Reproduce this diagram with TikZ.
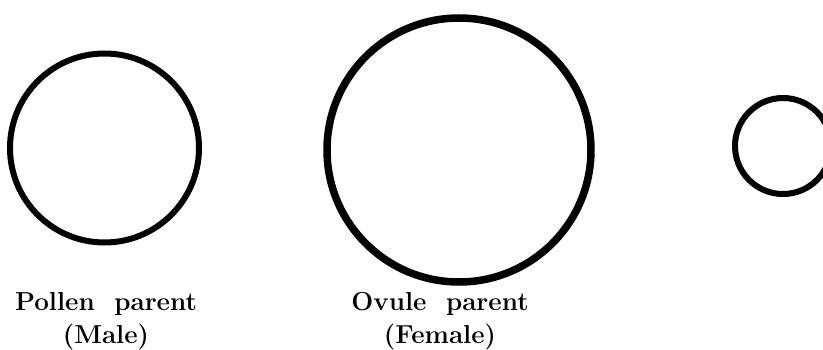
\documentclass[tikz,border=0pt]{standalone}
\usetikzlibrary{positioning}

\begin{document}
\begin{tikzpicture}[x=1pt, y=-1pt, parent/.style={circle, draw, inner sep=0pt},
  lbl/.style={align=center, inner sep=0pt, font=\fontsize{26}{33}\selectfont\bfseries}]
\useasboundingbox (0,0) rectangle (823,350);
\node (male) [parent, minimum size=189pt, line width=6pt] at (104.5,148) {};
\node (female) [parent, minimum size=264pt, line width=7.5pt] at (459,150) {};
\node (hybrid) [parent, minimum size=96pt, line width=6pt] at (783,146) {};
\node (malelbl) [lbl, anchor=base] at (106,343) {Pollen\ \ parent\\(Male)};
\node (femalelbl) [lbl, anchor=base] at (440,343) {Ovule\ \ parent\\(Female)};
\end{tikzpicture}
\end{document}
